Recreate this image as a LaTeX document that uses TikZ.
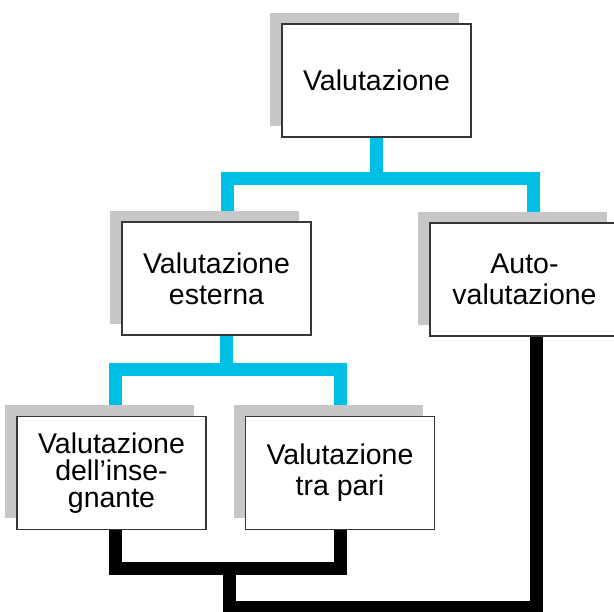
\documentclass[tikz,border=0pt]{standalone}
\usepackage{fontspec}
\setmainfont{Liberation Sans}
\usetikzlibrary{shadows,backgrounds}
\definecolor{linkblue}{RGB}{0,191,230}
\definecolor{shadowgray}{RGB}{198,199,201}
\definecolor{boxedge}{RGB}{55,55,55}
\begin{document}
\begin{tikzpicture}[x=1pt,y=-1pt,
  card/.style={draw=boxedge, line width=1.2pt, fill=white,
    minimum width=189pt, minimum height=113pt, inner sep=0pt,
    align=center, font=\fontsize{28.5}{31}\selectfont,
    drop shadow={shadow xshift=-12pt, shadow yshift=11pt, opacity=1, fill=shadowgray}},
  blueline/.style={draw=linkblue, line width=13pt, line join=miter, line cap=butt},
  blackline/.style={draw=black, line width=13pt, line join=miter, line cap=butt}]
\useasboundingbox (0,0) rectangle (614,612);
\node[card] (top) at (376.5,80.5) {Valutazione};
\node[card] (ext) at (216.5,278.5) {Valutazione\\esterna};
\node[card] (auto) at (524.5,279.5) {Auto-\\valutazione};
\node[card, font=\fontsize{28.5}{27}\selectfont] (ins) at (111.5,473) {Valutazione\\dell’inse-\\gnante};
\node[card] (pari) at (340,473) {Valutazione\\tra pari};
\coordinate (j1) at (376.5,178.5);
\coordinate (j1l) at (227.5,178.5);
\coordinate (j1r) at (533.5,178.5);
\coordinate (j2) at (226.5,369.5);
\coordinate (j2l) at (115,369.5);
\coordinate (j2r) at (340.5,369.5);
\coordinate (k1l) at (115,569);
\coordinate (k1m) at (229.5,569);
\coordinate (k1r) at (340.5,569);
\coordinate (k2l) at (229.5,608);
\coordinate (k2r) at (536.5,608);
\begin{scope}[on background layer]
\draw[blueline] (top.south) -- (j1);
\draw[blueline] (j1l |- ext.north) -- (j1l) -- (j1r) -- (j1r |- auto.north);
\draw[blueline] (j2 |- ext.south) -- (j2);
\draw[blueline] (j2l |- ins.north) -- (j2l) -- (j2r) -- (j2r |- pari.north);
\draw[blackline] (k1l |- ins.south) -- (k1l) -- (k1r) -- (k1r |- pari.south);
\draw[blackline] (k1m) -- (k2l) -- (k2r) -- (k2r |- auto.south);
\end{scope}
\end{tikzpicture}
\end{document}
